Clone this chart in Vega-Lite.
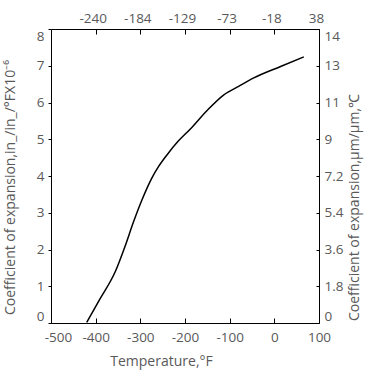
{
  "$schema": "https://vega.github.io/schema/vega-lite/v6.json",
  "width": 268,
  "height": 294,
  "autosize": {"type": "none"},
  "padding": {"left": 51, "top": 29, "right": 51, "bottom": 58},
  "background": "white",
  "config": {
    "view": {"stroke": null},
    "font": "Open Sans",
    "axis": {
      "grid": false,
      "domainColor": "#000000",
      "tickColor": "#000000",
      "labelColor": "#595959",
      "titleColor": "#595959",
      "labelFontSize": 13.5,
      "titleFontSize": 14,
      "titleFontWeight": "normal",
      "labelFlush": false,
      "labelOverlap": false,
      "domainWidth": 1,
      "tickWidth": 1
    }
  },
  "data": {
    "values": [
      {"tempF": -420, "coef": 0.02},
      {"tempF": -390, "coef": 0.66},
      {"tempF": -356, "coef": 1.4},
      {"tempF": -335, "coef": 2.06},
      {"tempF": -315, "coef": 2.76},
      {"tempF": -296, "coef": 3.36},
      {"tempF": -274, "coef": 3.95},
      {"tempF": -259, "coef": 4.26},
      {"tempF": -240, "coef": 4.58},
      {"tempF": -215, "coef": 4.95},
      {"tempF": -188, "coef": 5.28},
      {"tempF": -150, "coef": 5.79},
      {"tempF": -113, "coef": 6.21},
      {"tempF": -80, "coef": 6.44},
      {"tempF": -46, "coef": 6.67},
      {"tempF": 14, "coef": 6.98},
      {"tempF": 66, "coef": 7.24}
    ]
  },
  "layer": [
    {
      "mark": {"type": "line", "color": "#000000", "strokeWidth": 1.5, "interpolate": "monotone"},
      "encoding": {
        "x": {
          "field": "tempF",
          "type": "quantitative",
          "scale": {"domain": [-500, 100], "nice": false, "zero": false},
          "axis": {
            "orient": "bottom",
            "values": [-500, -400, -300, -200, -100, 0, 100],
            "labelExpr": "'' + datum.value",
            "labelOffset": {"condition": {"test": "datum.value == -500", "value": 7}, "value": 0},
            "tickSize": -5,
            "labelPadding": 12,
            "title": "Temperature,°F",
            "titleX": 110,
            "titleY": 38,
            "titleBaseline": "middle",
            "titleAlign": "center"
          }
        },
        "y": {
          "field": "coef",
          "type": "quantitative",
          "scale": {"domain": [0, 8], "nice": false},
          "axis": {
            "orient": "left",
            "values": [0, 1, 2, 3, 4, 5, 6, 7, 8],
            "labelExpr": "'' + datum.value",
            "labelFlush": true,
            "tickSize": 3,
            "labelPadding": 4,
            "title": "Coefficient of expansion,in_/in_/°FX10⁻⁶",
            "titleX": -41,
            "titleY": 158,
            "titleAngle": -90,
            "titleBaseline": "middle",
            "titleAlign": "center"
          }
        }
      }
    },
    {
      "mark": {"type": "line", "strokeOpacity": 0, "interpolate": "monotone"},
      "encoding": {
        "x": {
          "field": "tempF",
          "type": "quantitative",
          "scale": {"domain": [-500, 100], "nice": false, "zero": false},
          "axis": {
            "orient": "top",
            "values": [-400, -300, -200, -100, 0, 100],
            "labelExpr": "'' + round((datum.value - 32) * 5 / 9)",
            "labelOffset": -3,
            "tickSize": -5,
            "labelPadding": 9,
            "title": null
          }
        },
        "y": {
          "field": "coef",
          "type": "quantitative",
          "scale": {"domain": [0, 8], "nice": false},
          "axis": {
            "orient": "right",
            "values": [0, 1, 2, 3, 4, 5, 6, 7, 8],
            "labelExpr": "['0','1.8','3.6','5.4','7.2','9','11','13','14'][datum.value]",
            "labelFlush": true,
            "tickSize": -3,
            "labelPadding": 8,
            "title": "Coefficient of expansion,μm/μm,℃",
            "titleX": 35,
            "titleY": 178,
            "titleAngle": -90,
            "titleBaseline": "middle",
            "titleAlign": "center"
          }
        }
      }
    }
  ],
  "resolve": {"axis": {"x": "independent", "y": "independent"}}
}
